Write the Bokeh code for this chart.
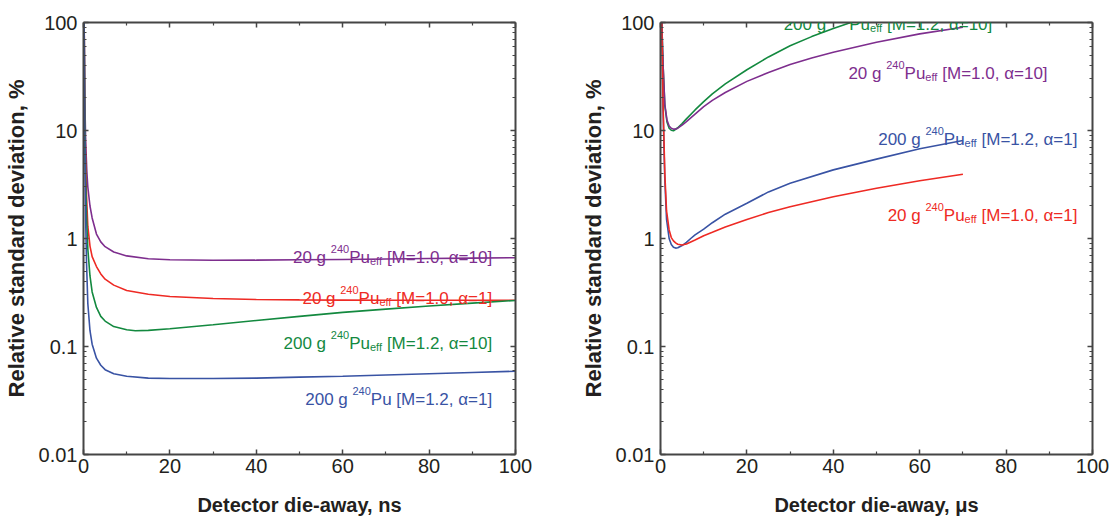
from bokeh.plotting import figure
from bokeh.models import Range1d, FixedTicker, LinearAxis, LogAxis, Label, CustomJSTickFormatter
from bokeh.layouts import row
from bokeh.embed import file_html
from bokeh.resources import INLINE

# ---------------- data: left panel (die-away in ns) ----------------
ns_purple_x = [0.15, 0.3, 0.5, 0.77, 1, 1.5, 2, 3, 4, 5, 7, 10, 15, 20, 30, 40, 50, 60, 70, 80, 90, 100]
ns_purple_y = [100, 20, 8, 4.2, 3.0, 2.0, 1.55, 1.1, 0.93, 0.84, 0.75, 0.69, 0.65, 0.635, 0.628, 0.63, 0.635, 0.64, 0.646, 0.652, 0.658, 0.664]

ns_red_x = [0.15, 0.3, 0.5, 0.7, 1, 1.5, 2, 3, 4, 5, 7, 10, 15, 20, 30, 40, 50, 60, 70, 80, 90, 100]
ns_red_y = [100, 15, 5, 2.5, 1.3, 0.85, 0.68, 0.55, 0.47, 0.42, 0.37, 0.33, 0.305, 0.29, 0.278, 0.272, 0.27, 0.269, 0.268, 0.268, 0.268, 0.268]

ns_green_x = [0.15, 0.3, 0.5, 0.7, 1, 1.5, 2, 3, 4, 5, 7, 10, 12, 15, 20, 30, 40, 50, 60, 70, 80, 90, 100]
ns_green_y = [100, 12, 3.5, 1.6, 0.8, 0.45, 0.32, 0.23, 0.19, 0.172, 0.153, 0.143, 0.14, 0.141, 0.146, 0.159, 0.174, 0.19, 0.207, 0.222, 0.237, 0.252, 0.267]

ns_blue_x = [0.15, 0.3, 0.5, 0.7, 1, 1.5, 2, 3, 4, 5, 7, 10, 15, 20, 30, 40, 50, 60, 70, 80, 90, 100]
ns_blue_y = [100, 8, 1.5, 0.6, 0.25, 0.14, 0.105, 0.078, 0.067, 0.061, 0.056, 0.053, 0.051, 0.0505, 0.0505, 0.051, 0.052, 0.053, 0.0545, 0.056, 0.0575, 0.059]

# ---------------- data: right panel (die-away in us) ----------------
us_green_x = [0.3, 0.6, 1, 1.5, 2, 2.5, 3, 4, 5, 6, 8, 10, 12, 15, 20, 25, 30, 35, 40, 45]
us_green_y = [100, 40, 17, 12, 10.5, 10.05, 9.95, 10.6, 11.6, 12.8, 15.5, 18.5, 21.8, 27, 36.5, 48, 61, 74, 88, 103]

us_purple_x = [0.3, 0.6, 1, 1.5, 2, 2.5, 3, 3.5, 4, 5, 6, 8, 10, 12, 15, 20, 25, 30, 35, 40, 50, 60, 70]
us_purple_y = [100, 40, 17.5, 12.5, 11, 10.5, 10.3, 10.3, 10.5, 11.2, 12.1, 14.2, 16.6, 19, 22.5, 28.5, 34.5, 40.8, 47, 53, 65.6, 78.5, 90.5]

us_blue_x = [0.3, 0.6, 1, 1.4, 2, 2.5, 3, 3.5, 4, 5, 6, 7, 8, 10, 12, 15, 20, 25, 30, 40, 50, 60, 70]
us_blue_y = [100, 15, 3.5, 1.5, 1.0, 0.88, 0.83, 0.815, 0.82, 0.86, 0.92, 1.0, 1.08, 1.22, 1.4, 1.68, 2.12, 2.7, 3.25, 4.32, 5.43, 6.77, 8.09]

us_red_x = [0.3, 0.6, 1, 1.4, 2, 2.5, 3, 3.5, 4, 5, 6, 7, 8, 10, 12, 15, 20, 25, 30, 40, 50, 60, 70]
us_red_y = [100, 17, 4, 1.8, 1.2, 1.02, 0.95, 0.91, 0.885, 0.87, 0.89, 0.93, 0.97, 1.06, 1.14, 1.28, 1.5, 1.74, 1.97, 2.44, 2.92, 3.42, 3.94]

x_ticks = [0, 20, 40, 60, 80, 100]
x_minor = [10, 30, 50, 70, 90]
y_ticks = [0.01, 0.1, 1, 10, 100]
y_minor = [m * d for d in (0.01, 0.1, 1, 10) for m in range(2, 10)]

PURPLE = "#7e2e8e"
RED = "#ee2a24"
GREEN = "#13893f"
BLUE = "#3953a4"

FONT = "Liberation Sans"
AXC = "#454545"
TXT = "#231f20"

# label texts: (parts, colour, x_end, y_baseline)
left_labels = [
    ([("20 g ", "m"), ("240", "sup"), ("Pu", "m"), ("eff", "sub"), (" [M=1.0, \u03b1=10]", "m")], PURPLE, 94.6, 0.673),
    ([("20 g ", "m"), ("240", "sup"), ("Pu", "m"), ("eff", "sub"), (" [M=1.0, \u03b1=1]", "m")], RED, 94.6, 0.281),
    ([("200 g ", "m"), ("240", "sup"), ("Pu", "m"), ("eff", "sub"), (" [M=1.2, \u03b1=10]", "m")], GREEN, 94.6, 0.1075),
    ([("200 g ", "m"), ("240", "sup"), ("Pu [M=1.2, \u03b1=1]", "m")], BLUE, 94.6, 0.0321),
]
right_labels = [
    ([("200 g ", "m"), ("240", "sup"), ("Pu", "m"), ("eff", "sub"), (" [M=1.2, \u03b1=10]", "m")], GREEN, 76.8, 95.0),
    ([("20 g ", "m"), ("240", "sup"), ("Pu", "m"), ("eff", "sub"), (" [M=1.0, \u03b1=10]", "m")], PURPLE, 89.6, 33.5),
    ([("200 g ", "m"), ("240", "sup"), ("Pu", "m"), ("eff", "sub"), (" [M=1.2, \u03b1=1]", "m")], BLUE, 96.5, 8.32),
    ([("20 g ", "m"), ("240", "sup"), ("Pu", "m"), ("eff", "sub"), (" [M=1.0, \u03b1=1]", "m")], RED, 96.5, 1.62),
]

# Arial / Liberation Sans advance widths (per 1000 em)
WID = {' ': 278, '.': 278, ',': 278, '=': 584, '[': 278, ']': 278, 'M': 833,
       'g': 556, 'P': 667, 'u': 556, 'e': 556, 'f': 278, '\u03b1': 578}
for d in "0123456789":
    WID[d] = 556

SIZES = {"m": 17, "sup": 11, "sub": 11}
DY = {"m": 0, "sup": 8.5, "sub": -3.5}


def text_width(s, size):
    return sum(WID.get(c, 556) for c in s) * size / 1000.0


def add_label_parts(p, parts, color, x_end, y_base):
    # widths computed including spaces; leading spaces converted to offsets
    total = sum(text_width(t, SIZES[k]) for t, k in parts)
    off = -total
    for t, k in parts:
        w_full = text_width(t, SIZES[k])
        lead = len(t) - len(t.lstrip(" "))
        shown = t.strip(" ")
        p.add_layout(Label(x=x_end, y=y_base, x_offset=off + text_width(" " * lead, SIZES[k]),
                           y_offset=DY[k], text=shown, level="overlay",
                           text_font=FONT, text_font_size=f"{SIZES[k]}px",
                           text_color=color, text_align="left", text_baseline="alphabetic"))
        off += w_full


def style_axis(ax, ticker, labels=True):
    ax.ticker = ticker
    ax.axis_line_color = AXC
    ax.axis_line_width = 2
    ax.major_tick_line_color = AXC
    ax.minor_tick_line_color = AXC
    ax.major_tick_line_width = 1.5
    ax.minor_tick_line_width = 1.2
    ax.major_tick_in = 5
    ax.major_tick_out = 0
    ax.minor_tick_in = 3
    ax.minor_tick_out = 0
    ax.major_label_text_font = FONT
    ax.major_label_text_font_size = "20px"
    ax.major_label_text_color = TXT
    ax.axis_label_text_font = FONT
    ax.axis_label_text_font_size = "20px"
    ax.axis_label_text_font_style = "bold"
    ax.axis_label_text_color = TXT
    if not labels:
        ax.formatter = CustomJSTickFormatter(code="return ''")
        ax.major_label_standoff = 0
        ax.major_label_text_font_size = "6px"


def make_fig(xlabel, border_left, border_right):
    p = figure(frame_width=432, frame_height=432, x_range=Range1d(0, 100), y_range=Range1d(0.01, 100),
               y_axis_type="log", output_backend="svg", toolbar_location=None,
               min_border_left=border_left, min_border_right=border_right,
               min_border_top=22, min_border_bottom=56)
    p.grid.visible = False
    p.outline_line_color = None
    p.background_fill_color = "white"
    p.border_fill_color = "white"

    xt = FixedTicker(ticks=x_ticks, minor_ticks=x_minor)
    yt = FixedTicker(ticks=y_ticks, minor_ticks=y_minor)

    xa = p.xaxis[0]
    style_axis(xa, xt)
    xa.axis_label = xlabel
    xa.major_label_standoff = 4
    xa.axis_label_standoff = 18

    ya = p.yaxis[0]
    style_axis(ya, yt)
    ya.axis_label = "Relative standard deviation, %"
    ya.axis_label_text_font_size = "22px"
    ya.formatter = CustomJSTickFormatter(code="return String(Number(tick.toPrecision(3)));")
    ya.major_label_standoff = 6
    ya.axis_label_standoff = 7

    top = LinearAxis()
    style_axis(top, FixedTicker(ticks=x_ticks, minor_ticks=x_minor), labels=False)
    p.add_layout(top, "above")
    right = LogAxis()
    style_axis(right, FixedTicker(ticks=y_ticks, minor_ticks=y_minor), labels=False)
    p.add_layout(right, "right")
    return p


p1 = make_fig("Detector die-away, ns", 70, 62)
for xs, ys, c in [(ns_purple_x, ns_purple_y, PURPLE), (ns_red_x, ns_red_y, RED),
                  (ns_green_x, ns_green_y, GREEN), (ns_blue_x, ns_blue_y, BLUE)]:
    p1.line(xs, ys, line_color=c, line_width=1.6)
for parts, c, xe, yb in left_labels:
    add_label_parts(p1, parts, c, xe, yb)

p2 = make_fig("Detector die-away, \u03bcs", 70, 22)
for xs, ys, c in [(us_green_x, us_green_y, GREEN), (us_purple_x, us_purple_y, PURPLE),
                  (us_blue_x, us_blue_y, BLUE), (us_red_x, us_red_y, RED)]:
    p2.line(xs, ys, line_color=c, line_width=1.6)
for parts, c, xe, yb in right_labels:
    add_label_parts(p2, parts, c, xe, yb)

layout = row(p1, p2)
open("out.html", "w").write(file_html(layout, INLINE))
